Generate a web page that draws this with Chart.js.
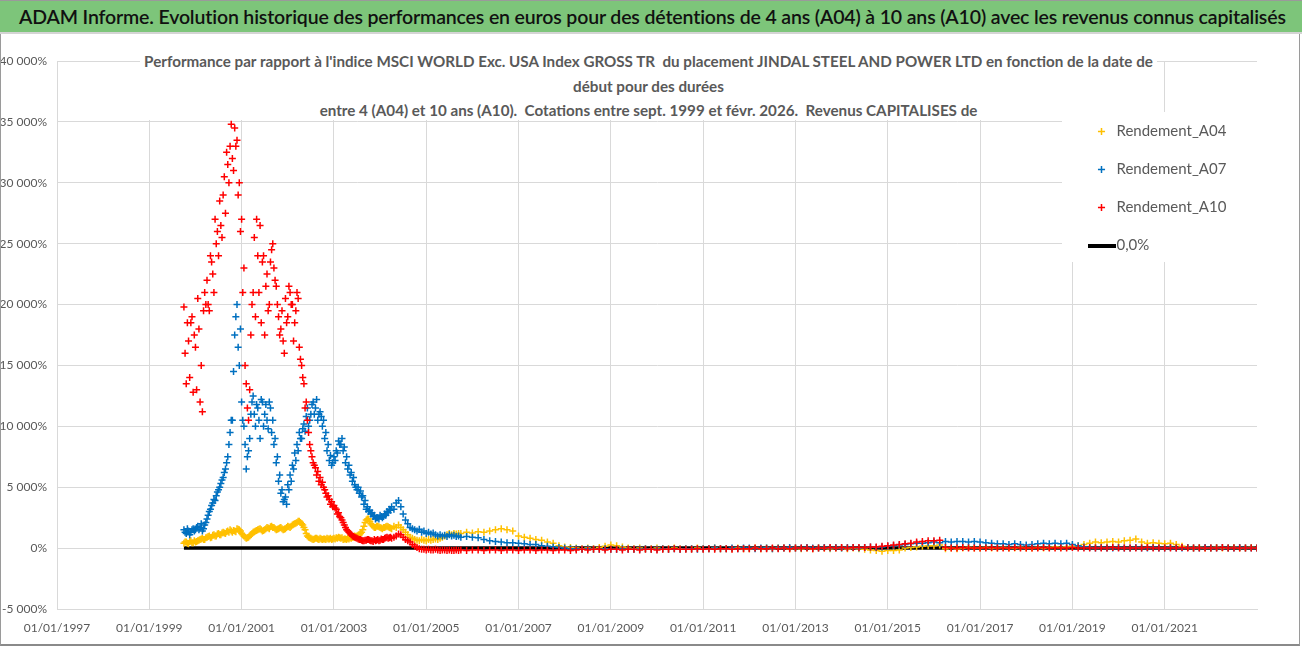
<!DOCTYPE html>
<html>
<head>
<meta charset="utf-8">
<script src="https://cdn.jsdelivr.net/npm/chart.js@4.4.1/dist/chart.umd.min.js"></script>
<style>
html,body{margin:0;padding:0;background:#fff;width:1302px;height:647px;overflow:hidden;}
#wrap{position:relative;width:1302px;height:647px;}
#header{position:absolute;left:0;top:0;width:1302px;height:34px;background:#7dc57a;border-top:1px solid #9a9a9a;border-bottom:2px solid #d4d4d4;box-sizing:border-box;font:600 19.5px Lato,sans-serif;letter-spacing:-0.15px;color:#111;line-height:31px;padding-left:19px;white-space:nowrap;z-index:3;}
#chartBox{position:absolute;left:0;top:0;width:1302px;height:647px;}
#subtitle{position:absolute;left:140px;top:49px;width:1017px;height:71px;background:#fff;text-align:center;font:bold 15.2px Lato,sans-serif;color:#595959;line-height:24.5px;white-space:nowrap;z-index:2;}
#frame{position:absolute;left:0;top:33px;width:1300px;height:613px;border:1px solid #9a9a9a;border-top:none;border-bottom:2px solid #8a8a8a;box-sizing:border-box;pointer-events:none;z-index:2;}
</style>
</head>
<body>
<div id="wrap">
  <div id="chartBox"><canvas id="c"></canvas></div>
  <div id="header">ADAM Informe. Evolution historique des performances en euros pour des détentions de 4 ans (A04) à 10 ans (A10) avec les revenus connus capitalisés</div>
  <div id="subtitle">Performance par rapport à l'indice MSCI WORLD Exc. USA Index GROSS TR&nbsp; du placement JINDAL STEEL AND POWER LTD en fonction de la date de<br>début pour des durées<br>entre 4 (A04) et 10 ans (A10).&nbsp; Cotations entre sept. 1999 et févr. 2026.&nbsp; Revenus CAPITALISES de</div>
  <div id="frame"></div>
</div>
<script>
// ---- Sampling of start dates (decimal years) ----
const denseStart = 1999.75;
const denseStep = 0.05;
const dense2Start = 1999.775;   // second interleaved track (same step)
const sparseStart = 2005.75;
const sparseStep = 0.125;

// ---- Series labels ----
const seriesNames = ['Rendement_A04', 'Rendement_A07', 'Rendement_A10', '0,0%'];

// ---- A04 values (%) ----
const a04Dense = [
  400,500,350,600,450,500,600,700,800,700,
  900,1000,900,1100,1000,1200,1100,1300,1200,1400,
  1500,1300,1400,1600,1500,1200,1000,800,900,1100,
  1300,1400,1500,1600,1400,1500,1700,1600,1800,1700,
  1500,1600,1700,1500,1600,1800,1700,1900,2000,2100,
  2200,2000,1700,1200,900,800,700,800,750,800,
  700,750,800,750,700,800,850,900,800,700,
  750,800,850,900,1000,1000,1100,1300,1800,2300,
  2400,2000,1800,1700,1800,1700,1600,1700,1800,1700,
  1600,1800,1700,1900,1700,1500,1300,1100,900,800,
  700,650,600,700,650,600,700,650,700,750,
  700,800,900,1000,1100,1200,1100,1200,1150,1200
];
const a04Dense2 = [
  500,400,550,450,600,550,650,750,700,850,
  950,850,1050,1000,1150,1100,1250,1250,1350,1300,
  1400,1450,1350,1550,1400,1100,900,850,1000,1200,
  1350,1450,1550,1500,1450,1600,1650,1750,1700,1600,
  1550,1650,1600,1550,1700,1750,1800,1950,2050,2200,
  2100,1900,1500,1000,850,750,750,800,700,750,
  750,700,750,800,750,750,800,850,850,750,
  700,750,800,900,950,1050,1200,1500,2100,2400,
  2200,1900,1700,1800,1750,1650,1700,1750,1750,1650
];
const a04Sparse = [
  1200,1300,1250,1350,1300,1400,1500,1600,1500,1400,
  1000,900,800,700,650,500,400,200,100,50,
  0,-50,0,-50,50,150,250,200,100,0,
  -50,0,-50,-50,0,-50,-50,0,-50,-50,
  -50,0,-50,-50,0,-50,-50,-50,0,-50,
  -50,0,-50,0,-50,0,0,-50,0,-50,
  0,-50,0,0,-50,0,0,-50,0,-50,
  -100,-150,-200,-250,-200,-200,-150,0,50,100,
  150,200,200,250,-50,0,-50,0,50,0,
  0,50,0,0,50,0,0,50,0,0,
  50,0,50,100,50,100,150,200,300,400,
  500,450,500,550,500,600,650,750,500,400,
  450,400,350,400,300,150,50,0,50,0,
  0,50,0,0,50,0,0,50,0
];

// ---- A07 values (%) ----
const a07Dense = [
  1500,1200,1400,1300,1600,1500,1800,1700,1400,1900,
  2400,3000,3500,4000,4300,4800,5300,5800,6500,7500,
  9500,10500,17500,20000,15000,12000,10000,6500,8000,11000,
  12500,10000,11500,9000,12000,11000,10500,12000,9500,8500,
  7000,5500,4500,3800,4200,5200,6000,6800,7800,8500,
  9500,9000,10200,10800,10000,11000,12000,11500,10500,11200,
  10000,9000,8000,7200,6800,7500,8000,8800,8500,8000,
  7000,6500,6000,5500,5200,4800,4500,4200,3600,3200,
  3000,2800,2600,2400,2500,2700,2500,2800,3000,3200,
  3400,3200,3700,3900,3400,2800,2300,2000,1700,1600,
  1500,1400,1550,1300,1400,1200,1300,1150,1250,1100,
  1000,1100,1000,1050,950,1100,1000,1050,950,1000
];
const a07Dense2 = [
  1300,1600,1100,1500,1400,1700,1500,2000,1600,2100,
  2700,3200,3700,3900,4600,5000,5600,6200,7000,8500,
  10500,14500,19000,16500,18000,10500,8500,7500,9000,12000,
  11000,11800,10500,12200,10000,11800,9800,11500,10500,9000,
  7500,6000,4800,4000,3600,4800,5500,6500,7200,8000,
  9000,9800,9600,11500,10500,11800,11000,12200,11000,10800,
  10500,9500,8500,7600,7000,7200,7800,8500,9000,8300,
  7500,6800,6200,5800,5000,5000,4700,4300,3900,3400,
  3100,2900,2700,2500,2400,2600,2600,2700,2900,3100
];
const a07Sparse = [
  900,950,900,850,700,600,550,500,450,450,
  400,350,300,300,200,150,100,50,0,-50,
  -50,-100,-50,-100,-100,-50,-100,-100,-50,-100,
  -100,-100,-50,-100,-100,-50,-100,-50,-100,-50,
  -50,-100,-50,-50,0,-50,-50,0,-50,0,
  0,-50,0,0,-50,0,0,50,0,0,
  50,0,0,50,0,50,0,50,50,0,
  50,100,50,100,150,200,250,300,350,400,
  400,450,500,450,550,500,550,550,500,550,
  500,450,400,350,350,300,350,300,250,300,
  350,400,350,400,350,400,300,200,100,50,
  0,50,0,0,50,0,0,50,0,0,
  50,0,0,50,0,0,50,0,0,50,
  0,0,50,0,0,50,0,0,0
];

// ---- A10 values (%) ----
const a10Dense = [
  19800,13500,17000,18500,12800,16500,20500,12000,11200,21000,
  22000,19500,23500,21000,25000,24000,26500,29000,27500,31500,
  33000,32000,34500,33500,30000,27000,23000,13500,10500,17500,
  21000,19000,24000,26500,23500,17500,22500,20000,24500,23000,
  21500,19000,18000,17000,20500,19000,21000,20000,18500,21000,
  16500,15000,13500,12000,9500,8000,7000,6600,6300,5800,
  5400,4800,4200,4000,3800,3500,3200,2900,2500,2100,
  1700,1400,1200,1000,900,800,700,650,600,650,
  700,600,550,600,700,650,700,800,900,850,
  800,900,1000,1150,1100,900,700,600,500,300,
  150,50,-50,-100,-100,-150,-100,-150,-150,-100,
  -150,-200,-150,-150,-200,-150,-200,-200,-150,-200
];
const a10Dense2 = [
  16000,18500,14000,19000,17500,13000,18000,15000,19500,20000,
  20000,24000,22500,27000,26000,28500,25500,30500,32500,30000,
  34800,31000,33000,29000,26000,21000,15000,11500,13000,20000,
  25500,27000,21000,18500,24000,21500,19500,23500,25000,22000,
  20000,17500,19500,16000,18500,21500,20000,17000,19500,20500,
  15500,14000,11500,10500,8500,7500,6800,6000,5500,5200,
  5000,4500,4300,3600,3400,3300,2800,2600,2300,1900,
  1500,1300,1100,950,850,750,700,600,650,700,
  650,600,700,650,600,750,700,850,800,900
];
const a10Sparse = [
  -150,-200,-150,-150,-200,-150,-150,-200,-150,-150,
  -200,-150,-150,-200,-150,-150,-200,-150,-150,-200,
  -150,-100,-150,-100,-100,-150,-100,-100,-150,-100,
  -100,-150,-100,-100,-150,-100,-100,-50,-100,-100,
  -100,-50,-100,-50,-100,-50,-50,-100,-50,-50,
  -50,0,-50,-50,0,-50,0,-50,0,0,
  0,-50,0,0,50,0,50,0,50,50,
  50,100,100,150,200,250,300,350,400,500,
  550,600,600,650,50,0,0,50,0,0,
  0,0,50,0,0,0,50,0,0,0,
  0,50,0,0,0,0,50,0,0,0,
  0,0,0,50,0,0,0,0,0,50,
  0,0,0,0,0,50,0,0,0,0,
  0,0,50,0,0,0,0,0,0
];

// ---- Zero reference line ----
const zeroDates = [1999.75, 2023];
const zeroValues = [0, 0];

// ---- Axis ticks ----
const xMin = 1997, xMax = 2023, xStep = 2;
const yMin = -5000, yMax = 40000, yStep = 5000;

// ---- Colours ----
const colA04 = '#FFC000', colA07 = '#0070C0', colA10 = '#FF0000', colZero = '#000000';

function toPoints(dense, dense2, sparse) {
  const pts = [];
  dense.forEach((v, i) => pts.push({x: denseStart + i * denseStep, y: v}));
  dense2.forEach((v, i) => pts.push({x: dense2Start + i * denseStep, y: v}));
  sparse.forEach((v, j) => pts.push({x: sparseStart + j * sparseStep, y: v}));
  return pts;
}
function fmtPct(v) {
  if (v === 0) return '0%';
  const t = Math.abs(v).toString().replace(/\B(?=(\d{3})+(?!\d))/g, ' ');
  return (v < 0 ? '-' : '') + t + '%';
}

const zeroIcon = document.createElement('canvas');
zeroIcon.width = 28; zeroIcon.height = 4;
(function(){ const z = zeroIcon.getContext('2d'); z.fillStyle = colZero; z.fillRect(0, 0, 28, 4); })();

function scatterSet(label, color, pts, order) {
  return {
    label, data: pts, order,
    showLine: false,
    pointStyle: 'cross', pointRadius: 3.5, pointHoverRadius: 3.5,
    pointBorderWidth: 1.5, borderColor: color, backgroundColor: color
  };
}

const legendPlacer = {
  id: 'legendPlacer',
  afterLayout(chart) {
    const lg = chart.legend;
    if (!lg) return;
    lg.left = 1071; lg.top = 101;
    lg.right = lg.left + 220; lg.bottom = lg.top + 200;
    lg.width = 220; lg.height = 200;
    if (!lg._wrappedBg) {
      const orig = lg.draw.bind(lg);
      lg.draw = function(area) {
        const c = this.ctx; c.save(); c.fillStyle = '#ffffff';
        c.fillRect(1062, 112, 236, 150); c.restore();
        orig(area);
      };
      lg._wrappedBg = true;
    }
  }
};

new Chart(document.getElementById('c'), {
  type: 'scatter',
  data: {
    datasets: [
      scatterSet(seriesNames[0], colA04, toPoints(a04Dense, a04Dense2, a04Sparse), 3),
      scatterSet(seriesNames[1], colA07, toPoints(a07Dense, a07Dense2, a07Sparse), 2),
      scatterSet(seriesNames[2], colA10, toPoints(a10Dense, a10Dense2, a10Sparse), 1),
      {
        label: seriesNames[3], order: 4,
        data: zeroDates.map((d, i) => ({x: d, y: zeroValues[i]})),
        showLine: true, borderColor: colZero, backgroundColor: colZero,
        borderWidth: 3.5, pointRadius: 0, pointHoverRadius: 0,
        pointStyle: zeroIcon, pointBorderColor: colZero, pointBorderWidth: 4
      }
    ]
  },
  options: {
    responsive: true, maintainAspectRatio: false, animation: false,
    layout: {padding: {top: 61, right: 45, bottom: 8, left: 0}},
    scales: {
      x: {
        type: 'linear', min: xMin, max: xMax,
        afterFit(s) { s.height = 30; },
        ticks: {
          stepSize: xStep, autoSkip: false, maxRotation: 0, padding: 12,
          color: '#595959', font: {family: 'Lato', size: 12},
          callback: v => (v >= xMax ? null : '01/01/' + v)
        },
        grid: {
          drawTicks: false,
          color: c => (c.tick && c.tick.value >= xMax ? 'rgba(0,0,0,0)' : '#d9d9d9')
        },
        border: {display: true, color: '#d9d9d9'}
      },
      y: {
        min: yMin, max: yMax,
        afterFit(s) { s.width = 57; },
        ticks: {
          stepSize: yStep, padding: 10,
          color: '#595959', font: {family: 'Lato', size: 12},
          callback: v => fmtPct(v)
        },
        grid: {drawTicks: false, color: '#d9d9d9'},
        border: {display: true, color: '#d9d9d9'}
      }
    },
    plugins: {
      tooltip: {enabled: false},
      title: {display: false},
      legend: {
        position: 'chartArea', align: 'start',
        labels: {
          usePointStyle: true, boxHeight: 5, boxWidth: 15, padding: 23,
          color: '#595959', font: {family: 'Lato', size: 15},
          sort: (a, b) => a.datasetIndex - b.datasetIndex
        }
      }
    }
  },
  plugins: [legendPlacer]
});
</script>
</body>
</html>
